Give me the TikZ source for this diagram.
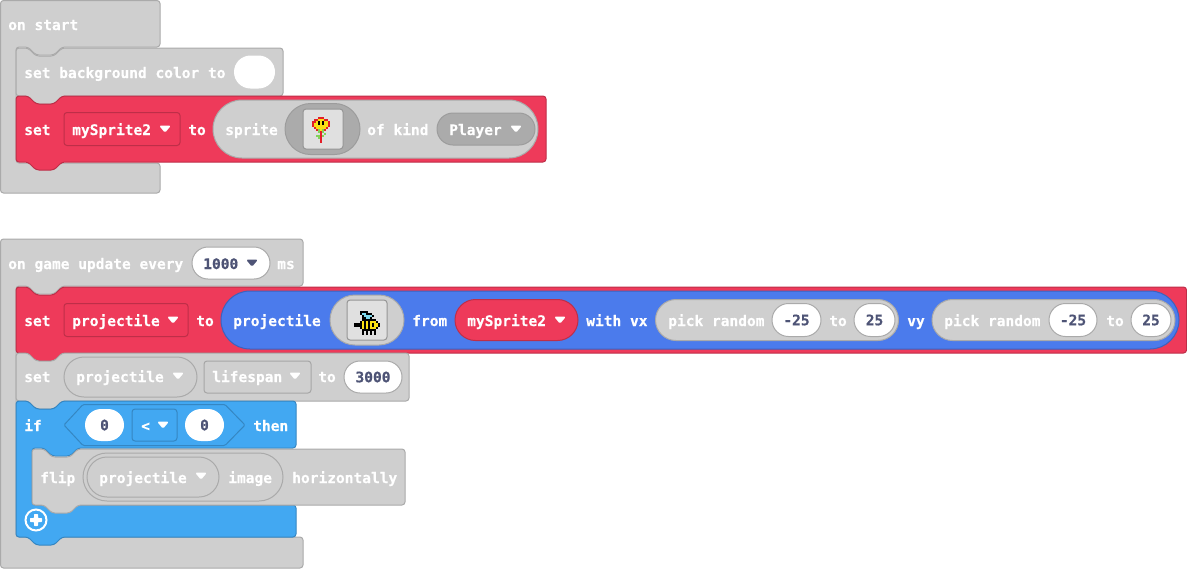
\documentclass[tikz,border=0pt]{standalone}
\usepackage{fontspec}
\usetikzlibrary{shapes.misc}
\newfontfamily\monofam{DejaVu Sans Mono}[BoldFeatures={FakeBold=0.4}]
\newcommand{\blockfont}{\monofam\bfseries\fontsize{10.9}{12}\selectfont}
\definecolor{blockgray}{RGB}{207, 207, 207}
\definecolor{edgegray}{RGB}{170, 170, 170}
\definecolor{imgedge}{RGB}{150, 150, 150}
\definecolor{darkgray}{RGB}{171, 171, 171}
\definecolor{spritered}{RGB}{238, 58, 90}
\definecolor{edgered}{RGB}{190, 46, 72}
\definecolor{projblue}{RGB}{75, 123, 236}
\definecolor{edgeblue}{RGB}{60, 98, 189}
\definecolor{logicblue}{RGB}{66, 168, 242}
\definecolor{edgelogic}{RGB}{53, 134, 194}
\definecolor{numtext}{RGB}{78, 84, 118}
\definecolor{imgfill}{RGB}{224, 224, 224}
\definecolor{pxred}{RGB}{228, 30, 40}
\definecolor{pxyellow}{RGB}{250, 225, 20}
\definecolor{pxgreen}{RGB}{130, 210, 90}
\definecolor{pxcyan}{RGB}{125, 215, 235}
% notch in the top edge, tab on the bottom edge
\newcommand{\tabR}{-- ++(8,8) -- ++(18,0) -- ++(8,-8)}
\newcommand{\tabL}{-- ++(-8,8) -- ++(-18,0) -- ++(-8,-8)}
\tikzset{
    grayblock/.style={draw=edgegray, fill=blockgray, line width=0.75pt, rounded corners=2.25pt},
    redblock/.style={grayblock, draw=edgered, fill=spritered},
    ifblock/.style={grayblock, draw=edgelogic, fill=logicblue},
    lbl/.style={anchor=base west, inner sep=0pt, text=white, font=\blockfont},
    size/.style n args={2}{minimum width=#1*0.75pt, minimum height=#2*0.75pt},
    field/.style={inner sep=0pt, line width=0.75pt, font=\blockfont},
    whitepill/.style={field, rounded rectangle, draw=edgegray, fill=white, text=numtext},
    graypill/.style={field, rounded rectangle, draw=edgegray, fill=blockgray},
    darkpill/.style={field, rounded rectangle, draw=imgedge!70!darkgray, fill=darkgray},
    redpill/.style={field, rounded rectangle, draw=edgered, fill=spritered},
    bluepill/.style={field, rounded rectangle, draw=edgeblue, fill=projblue},
    dropbox/.style={field, rectangle, rounded corners=2.25pt, draw=#1!80!black},
    imgbox/.style={field, rectangle, rounded corners=2.25pt, draw=imgedge, fill=imgfill, size={40}{40}},
    caret/.pic={\fill[pic actions, rounded corners=1.2pt] (-6,-3.5) -- (6,-3.5) -- (0,3.8) -- cycle;},
}
\begin{document}
\begin{tikzpicture}[x=0.75pt, y=-0.75pt]
    \useasboundingbox (0,0) rectangle (1187,569);

    % on start
    \draw[grayblock] (0.5,0.5) -- (160,0.5) -- (160,47) -- (62,47) \tabL -- (16,47) -- (16,163) -- (160,163) -- (160,193) -- (0.5,193) -- cycle;
    \node[lbl] (onstart) at (8,30) {on start};
    \draw[grayblock] (16,48) -- (28,48) \tabR -- (283,48) -- (283,96) -- (62,96) \tabL -- (16,96) -- cycle;
    \node[lbl] (setbg) at (24,78) {set background color to};
    \node[whitepill, draw=none, size={41}{33}] (bgcolor) at (254.5,72) {};

    \draw[redblock] (16,96) -- (28,96) \tabR -- (546,96) -- (546,162) -- (62,162) \tabL -- (16,162) -- cycle;
    \node[lbl] (setone) at (24,135) {set};
    \node[dropbox=spritered, size={116}{33}] (varone) at (122,129) {};
    \node[lbl] (varonetxt) at (72,135) {mySprite2};
    \pic[fill=white] at (165,129) {caret};
    \node[lbl] (toone) at (188,135) {to};
    \node[graypill, size={325}{58}] (spritepill) at (375.5,129) {};
    \node[lbl] (spritetxt) at (225,135) {sprite};
    \node[darkpill, size={75}{51}] (imgpill) at (322.5,129) {};
    \node[imgbox] (flowerbox) at (323,129) {};
    \foreach \c/\r/\n/\clr in {3/0/3/pxred, 1/1/2/pxred, 3/1/3/pxyellow, 6/1/2/pxred,
        0/2/2/pxred, 2/2/1/pxyellow, 3/2/1/black, 4/2/1/pxyellow, 5/2/1/black, 6/2/2/pxyellow, 8/2/1/pxred,
        0/3/1/pxred, 1/3/2/pxyellow, 3/3/1/black, 4/3/1/pxyellow, 5/3/1/black, 6/3/2/pxyellow, 8/3/1/pxred,
        0/4/1/pxred, 1/4/7/pxyellow, 8/4/1/pxred, 1/5/1/pxred, 2/5/5/pxyellow, 7/5/1/pxred,
        2/6/1/pxred, 3/6/1/pxgreen, 4/6/1/pxyellow, 5/6/1/pxgreen, 6/6/1/pxred,
        3/7/1/pxgreen, 4/7/1/pxred, 5/7/1/pxgreen, 4/8/1/pxred, 6/8/1/pxgreen,
        2/9/2/pxgreen, 4/9/1/pxred, 5/9/1/pxgreen, 3/10/1/pxgreen, 4/10/1/pxred, 4/11/1/pxred, 4/12/1/pxred}
        \fill[\clr] ({312+\c*2},{117+\r*2}) rectangle ++(\n*2,2);
    \node[lbl] (ofkind) at (367,135) {of kind};
    \node[darkpill, size={98}{32}] (kindpill) at (486,129) {};
    \node[lbl] (kindtxt) at (449,135) {Player};
    \pic[fill=white] at (516,129) {caret};

    % on game update
    \draw[grayblock] (0.5,239) -- (303,239) -- (303,286) -- (62,286) \tabL -- (16,286) -- (16,537) -- (303,537) -- (303,568) -- (0.5,568) -- cycle;
    \node[lbl] (ongame) at (8,269) {on game update every};
    \node[whitepill, size={78}{32}] (ratepill) at (231,263) {};
    \node[lbl, text=numtext] (ratetxt) at (203,269) {1000};
    \pic[fill=numtext] at (252,263) {caret};
    \node[lbl] (mstxt) at (277,269) {ms};

    \draw[redblock] (16,287) -- (28,287) \tabR -- (1186.5,287) -- (1186.5,353) -- (62,353) \tabL -- (16,353) -- cycle;
    \node[lbl] (settwo) at (24,326) {set};
    \node[dropbox=spritered, size={124}{33}] (vartwo) at (126,320) {};
    \node[lbl] (vartwotxt) at (72,326) {projectile};
    \pic[fill=white] at (173,320) {caret};
    \node[lbl] (totwo) at (196,326) {to};
    \node[bluepill, size={958}{58}] (projpill) at (700,320) {};
    \node[lbl] (projtxt) at (233,326) {projectile};
    \node[graypill, size={74}{50}] (beepill) at (367,320) {};
    \node[imgbox] (beebox) at (367,320) {};
    \foreach \c/\r/\n/\clr in {3/0/4/black, 3/1/1/black, 4/1/2/pxcyan, 6/1/3/black, 4/2/1/black, 5/2/4/pxcyan, 9/2/1/black,
        4/3/2/black, 6/3/2/pxcyan, 8/3/1/black, 4/4/7/black,
        3/5/1/black, 4/5/1/pxyellow, 5/5/1/black, 6/5/1/pxyellow, 7/5/1/black, 8/5/3/pxyellow, 11/5/1/black,
        0/6/4/black, 4/6/1/pxyellow, 5/6/1/black, 6/6/1/pxyellow, 7/6/1/black, 8/6/1/pxyellow, 9/6/1/black, 10/6/2/pxyellow, 12/6/1/black,
        0/7/4/black, 4/7/1/pxyellow, 5/7/1/black, 6/7/1/pxyellow, 7/7/1/black, 8/7/1/pxyellow, 9/7/1/black, 10/7/2/pxyellow, 12/7/1/black,
        3/8/1/black, 4/8/1/pxyellow, 5/8/1/black, 6/8/1/pxyellow, 7/8/1/black, 8/8/3/pxyellow, 11/8/1/black,
        4/9/7/black, 4/10/1/black, 6/10/1/black, 8/10/1/black, 10/10/1/black, 4/11/1/black, 6/11/1/black, 8/11/1/black, 10/11/1/black}
        \fill[\clr] ({354+\c*2},{311+\r*2}) rectangle ++(\n*2,2);
    \node[lbl] (fromtxt) at (412,326) {from};
    \node[redpill, size={123}{41}] (frompill) at (516.5,320) {};
    \node[lbl] (fromvar) at (467,326) {mySprite2};
    \pic[fill=white] at (560,320) {caret};
    \node[lbl] (withvx) at (586,326) {with vx};
    \node[graypill, size={243}{41}] (randx) at (777,320) {};
    \node[lbl] (randxtxt) at (668,326) {pick random};
    \node[whitepill, size={49}{33}] (xlow) at (796.5,320) {-25};
    \node[lbl] (xto) at (829,326) {to};
    \node[whitepill, size={41}{33}] (xhigh) at (874.5,320) {25};
    \node[lbl] (vytxt) at (907,326) {vy};
    \node[graypill, size={243}{41}] (randy) at (1053.5,320) {};
    \node[lbl] (randytxt) at (944,326) {pick random};
    \node[whitepill, size={48}{33}] (ylow) at (1073,320) {-25};
    \node[lbl] (yto) at (1106,326) {to};
    \node[whitepill, size={40}{33}] (yhigh) at (1151,320) {25};

    \draw[grayblock] (16,353) -- (28,353) \tabR -- (409,353) -- (409,401) -- (62,401) \tabL -- (16,401) -- cycle;
    \node[lbl] (setthree) at (24,382) {set};
    \node[graypill, size={133}{40}] (projvar) at (130.5,377) {};
    \node[lbl] (projvartxt) at (76,382) {projectile};
    \pic[fill=white] at (178,376) {caret};
    \node[dropbox=blockgray, size={107}{32}] (lifebox) at (257.5,377) {};
    \node[lbl] (lifetxt) at (212,382) {lifespan};
    \pic[fill=white] at (295,376) {caret};
    \node[lbl] (tothree) at (318,382) {to};
    \node[whitepill, size={58}{32}] (lifeval) at (373,377) {3000};

    % if block
    \draw[ifblock] (16,401) -- (28,401) \tabR -- (296,401) -- (296,448) -- (78,448) \tabL -- (32,448) -- (32,505) -- (296,505) -- (296,537) -- (62,537) \tabL -- (16,537) -- cycle;
    \node[lbl] (iftxt) at (24,431) {if};
    \draw[line width=0.75pt, draw=edgelogic, fill=logicblue, rounded corners=1pt] (64,425) -- (83,404.5) -- (225,404.5) -- (245,425) -- (225,445.5) -- (83,445.5) -- cycle;
    \node[whitepill, draw=none, size={39}{32}] (leftzero) at (104.5,425) {0};
    \node[dropbox=logicblue, size={45}{32}] (opbox) at (154.5,425) {};
    \node[lbl] (optxt) at (141,431) {<};
    \pic[fill=white] at (163,425) {caret};
    \node[whitepill, draw=none, size={39}{32}] (rightzero) at (204.5,425) {0};
    \node[lbl] (thentxt) at (253,431) {then};

    \draw[grayblock] (32,449) -- (44,449) \tabR -- (405,449) -- (405,505) -- (78,505) \tabL -- (32,505) -- cycle;
    \node[lbl] (fliptxt) at (40,483) {flip};
    \node[graypill, size={200}{48}] (imgouter) at (183,477) {};
    \node[graypill, size={132}{40}] (imginner) at (153,477) {};
    \node[lbl] (flipvar) at (99,483) {projectile};
    \pic[fill=white] at (201,476) {caret};
    \node[lbl] (imagetxt) at (228,483) {image};
    \node[lbl] (horiz) at (292,483) {horizontally};

    \node[circle, draw=white, line width=1.5pt, inner sep=0pt, size={21}{21}] (addbtn) at (36,520) {};
    \fill[white, rounded corners=0.5pt] (34,514) -- (38,514) -- (38,518) -- (42,518) -- (42,522) -- (38,522) -- (38,526) -- (34,526) -- (34,522) -- (30,522) -- (30,518) -- (34,518) -- cycle;
\end{tikzpicture}
\end{document}
